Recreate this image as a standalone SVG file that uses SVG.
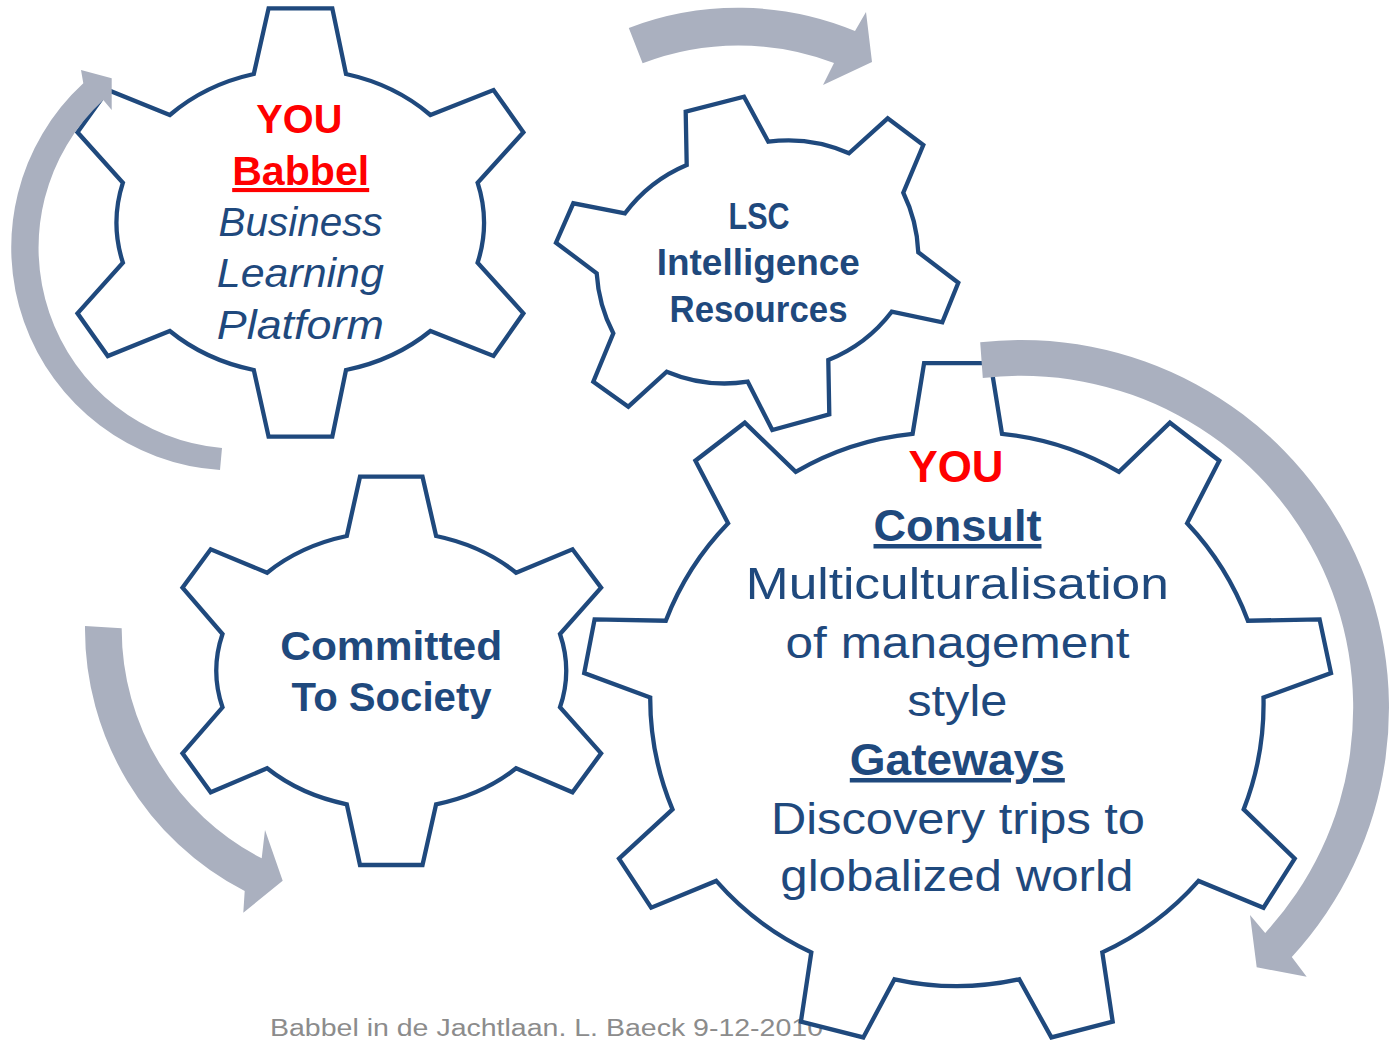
<svg xmlns="http://www.w3.org/2000/svg" width="1395" height="1041" viewBox="0 0 1395 1041">
<style>
.gear{fill:#fff;stroke:#1F497D;stroke-width:4.3;stroke-linejoin:miter}
.arrow{fill:#AAB0BF}
.t{font-family:"Liberation Sans",Arial,sans-serif;text-anchor:middle;fill:#1F497D}
.b{font-weight:bold}
.i{font-style:italic}
.red{fill:#FF0000}
.u{text-decoration:underline}
.foot{font-family:"Liberation Sans",Arial,sans-serif;fill:#8C8C8C;font-size:23px}
</style>
<rect width="1395" height="1041" fill="#fff"/>
<text class="foot" x="270" y="1035.5" textLength="553" lengthAdjust="spacingAndGlyphs">Babbel in de Jachtlaan. L. Baeck 9-12-2010</text>
<g id="gear-babbel">
<path class="gear" d="M253.8,74 L268.6,8.3 L332.3,8.3 L346,74 A183 153 0 0 1 430.4,115 L493.5,90 L523.4,132.3 L477.6,182.7 A183 153 0 0 1 477.6,262.7 L523.4,313.3 L493.5,356 L430.4,331 A183 153 0 0 1 346,370 L332.3,436.7 L268.6,436.7 L253.8,370 A183 153 0 0 1 169.8,331 L107.8,356 L77.5,313.3 L122.9,262.7 A183 153 0 0 1 122.9,182.7 L77.5,132.3 L107.8,90 L169.8,115 A183 153 0 0 1 253.8,74 Z"/>
<text class="t b red" x="299.3" y="132.7" font-size="41" textLength="86" lengthAdjust="spacingAndGlyphs">YOU</text>
<text class="t b red u" x="300.7" y="185" font-size="41" textLength="137" lengthAdjust="spacingAndGlyphs">Babbel</text>
<text class="t i" x="300.6" y="235.7" font-size="41" textLength="164" lengthAdjust="spacingAndGlyphs">Business</text>
<text class="t i" x="300.3" y="287.3" font-size="41" textLength="167" lengthAdjust="spacingAndGlyphs">Learning</text>
<text class="t i" x="300.3" y="339.3" font-size="41" textLength="167" lengthAdjust="spacingAndGlyphs">Platform</text>
</g>
<g id="gear-lsc">
<path class="gear" d="M686.7,165 L685.7,111.7 L744,96.7 L768.3,141.7 A150 150 0 0 1 849,153.3 L887.7,118.3 L923.3,145 L903.3,192.7 A150 150 0 0 1 918.3,252.3 L958.3,282.7 L942.3,322.3 L891.7,311.7 A150 150 0 0 1 828.3,360 L829.3,414.3 L772.3,430 L747.7,381.7 A150 150 0 0 1 666.7,371.7 L628.3,406.7 L593.3,381.7 L613.3,333.3 A150 150 0 0 1 596.7,273.3 L556,242.7 L573.3,203.3 L625,213.3 A150 150 0 0 1 686.7,165 Z"/>
<text class="t b" x="759" y="229.3" font-size="36" textLength="61" lengthAdjust="spacingAndGlyphs">LSC</text>
<text class="t b" x="758.3" y="275" font-size="36" textLength="203" lengthAdjust="spacingAndGlyphs">Intelligence</text>
<text class="t b" x="758.5" y="321.7" font-size="36" textLength="178" lengthAdjust="spacingAndGlyphs">Resources</text>
</g>
<g id="gear-society">
<path class="gear" d="M346.8,536 L360,476.7 L422.5,476.7 L436.1,536 A175 139.5 0 0 1 516.1,572.7 L572.5,549.3 L601.1,587.7 L560,634 A175 139.5 0 0 1 560,707.3 L601.1,753.3 L572.5,792.3 L516.1,768.3 A175 139.5 0 0 1 436.1,804.3 L422.5,865 L360,865 L346.8,804.3 A175 139.5 0 0 1 267.1,768.3 L210.7,792.3 L182.5,753.3 L222.5,707.3 A175 139.5 0 0 1 222.5,634 L182.5,587.7 L210.7,549.3 L267.1,572.7 A175 139.5 0 0 1 346.8,536 Z"/>
<text class="t b" x="391.2" y="659.5" font-size="41" textLength="222" lengthAdjust="spacingAndGlyphs">Committed</text>
<text class="t b" x="391.6" y="711" font-size="41" textLength="200" lengthAdjust="spacingAndGlyphs">To Society</text>
</g>
<g id="gear-consult">
<path class="gear" d="M912.6,433.9 L924.1,363.2 L990.6,363.2 L1002,433.9 A290 290 0 0 1 1119,471.9 L1169.9,422.7 L1219.3,460.7 L1187.1,523.3 A290 290 0 0 1 1247.9,620.7 L1319.6,619.4 L1331,673 L1263.5,697.6 A290 290 0 0 1 1243.7,809.4 L1294.7,858.6 L1263.5,907.7 L1198.5,880.9 A290 290 0 0 1 1102.3,952.4 L1112.7,1021.7 L1051.4,1037.4 L1019.2,979.3 A290 290 0 0 1 894.5,979.3 L863.3,1037.4 L800.9,1021.7 L811.3,952.4 A290 290 0 0 1 716.2,880.9 L651.2,907.7 L619,858.6 L672.5,809.4 A290 290 0 0 1 650.2,697.6 L584.2,673 L594.6,619.4 L665.8,620.7 A290 290 0 0 1 728.1,523.3 L695.4,460.7 L744.8,422.7 L795.7,471.9 A290 290 0 0 1 912.6,433.9 Z"/>
<text class="t b red" x="956" y="482" font-size="45" textLength="95" lengthAdjust="spacingAndGlyphs">YOU</text>
<text class="t b u" x="957.5" y="541" font-size="45" textLength="168" lengthAdjust="spacingAndGlyphs">Consult</text>
<text class="t" x="957.3" y="599.3" font-size="45" textLength="423" lengthAdjust="spacingAndGlyphs">Multiculturalisation</text>
<text class="t" x="957.6" y="658.3" font-size="45" textLength="344" lengthAdjust="spacingAndGlyphs">of management</text>
<text class="t" x="957.3" y="715.5" font-size="45" textLength="100" lengthAdjust="spacingAndGlyphs">style</text>
<text class="t b u" x="957.3" y="775" font-size="45" textLength="215" lengthAdjust="spacingAndGlyphs">Gateways</text>
<text class="t" x="958" y="834" font-size="45" textLength="374" lengthAdjust="spacingAndGlyphs">Discovery trips to</text>
<text class="t" x="956.8" y="890.7" font-size="45" textLength="353" lengthAdjust="spacingAndGlyphs">globalized world</text>
</g>
<g id="connectors">
<path class="arrow" d="M628.8,27.9 A306 306 0 0 1 855,31 L866,12 L872,62 L823,85 L834,63 A268 268 0 0 0 642.6,63.3 Z"/>
<path class="arrow" d="M220,470 A223 223 0 0 1 83.3,83.3 L81,70 L111.7,78.3 L111.7,110 L103.3,100 A201 201 0 0 0 222,448 Z"/>
<path class="arrow" d="M85,626 A295 295 0 0 0 244.7,891.1 L243.3,912.7 L282.7,880.7 L265,830 L261.7,858.3 A258 258 0 0 1 121.7,628.3 Z"/>
<path class="arrow" d="M980.2,342.2 A368 368 0 0 1 1291.8,957.1 L1306.7,976.7 L1256.7,967.3 L1250,915 L1265.2,932.9 A332 332 0 0 0 982.8,378 Z"/>
</g>
</svg>
